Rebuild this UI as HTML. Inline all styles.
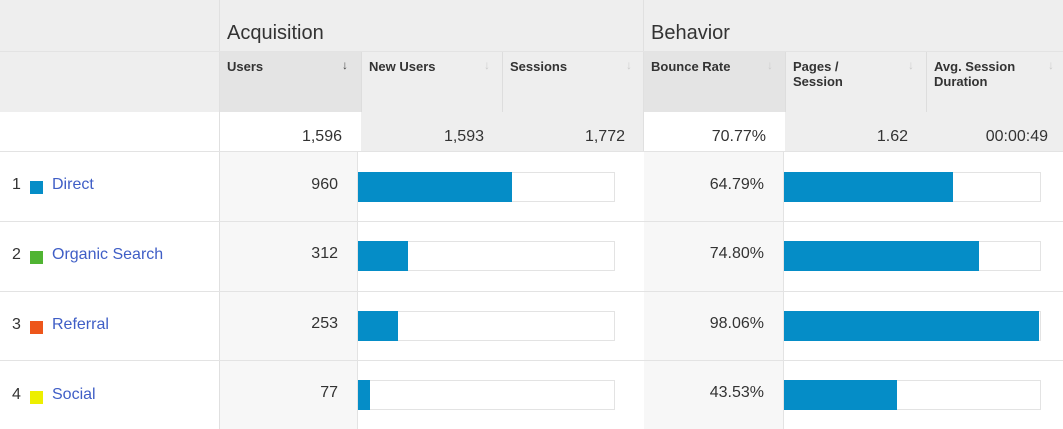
<!DOCTYPE html>
<html><head><style>
body{margin:0;width:1063px;height:429px;overflow:hidden;background:#fff;font-family:"Liberation Sans",Arial,sans-serif;color:#333;position:relative}
div{position:absolute;box-sizing:border-box}
.g{background:#eee}
.gd{background:#e4e4e4}
.h{font-size:20px;color:#333;top:22px}
.ch{font-size:13px;font-weight:bold;color:#333;line-height:15px}
.ar{font-size:12px;color:#ccc;font-weight:bold}
.num{font-size:16px;text-align:right}
.bx{border:1px solid #e3e3e3;background:#fff;height:30px}
.bar{background:#058dc7;height:30px}
.lbl{font-size:16px;color:#3f5ec6}
</style></head><body>
<div class="g" style="left:0;top:0;width:1063px;height:112px"></div>
<div style="left:219px;top:0;width:1px;height:429px;background:#e0e0e0"></div>
<div style="left:643px;top:0;width:1px;height:152px;background:#e0e0e0"></div>
<div style="left:0;top:51px;width:1063px;height:1px;background:#e3e3e3"></div>
<div class="h" style="left:227px">Acquisition</div>
<div class="h" style="left:651px">Behavior</div>
<div class="gd" style="left:220px;top:52px;width:141px;height:60px"></div>
<div class="gd" style="left:644px;top:52px;width:141px;height:60px"></div>
<div style="left:361px;top:52px;width:1px;height:100px;background:#ddd"></div>
<div style="left:502px;top:52px;width:1px;height:100px;background:#ddd"></div>
<div style="left:785px;top:52px;width:1px;height:100px;background:#ddd"></div>
<div style="left:926px;top:52px;width:1px;height:100px;background:#ddd"></div>
<div class="ch" style="left:227px;top:59px">Users</div><div class="ar" style="left:342px;top:58px;color:#444">&#x2193;</div>
<div class="ch" style="left:369px;top:59px">New Users</div><div class="ar" style="left:484px;top:58px">&#x2193;</div>
<div class="ch" style="left:510px;top:59px">Sessions</div><div class="ar" style="left:626px;top:58px">&#x2193;</div>
<div class="ch" style="left:651px;top:59px">Bounce Rate</div><div class="ar" style="left:767px;top:58px">&#x2193;</div>
<div class="ch" style="left:793px;top:59px">Pages /<br>Session</div><div class="ar" style="left:908px;top:58px">&#x2193;</div>
<div class="ch" style="left:934px;top:59px">Avg. Session<br>Duration</div><div class="ar" style="left:1048px;top:58px">&#x2193;</div>
<div class="g" style="left:361px;top:112px;width:282px;height:40px"></div>
<div class="g" style="left:785px;top:112px;width:278px;height:40px"></div>
<div class="num" style="left:220px;top:128px;width:122px">1,596</div>
<div class="num" style="left:361px;top:128px;width:123px">1,593</div>
<div class="num" style="left:502px;top:128px;width:123px">1,772</div>
<div class="num" style="left:644px;top:128px;width:122px">70.77%</div>
<div class="num" style="left:785px;top:128px;width:123px">1.62</div>
<div class="num" style="left:926px;top:128px;width:122px">00:00:49</div>

<div style="left:0;top:151px;width:1063px;height:1px;background:#e3e3e3"></div>
<div style="left:220px;top:152px;width:137px;height:277px;background:#f7f7f7"></div>
<div style="left:644px;top:152px;width:139px;height:277px;background:#f7f7f7"></div>
<div style="left:357px;top:152px;width:1px;height:277px;background:#e3e3e3"></div>
<div style="left:783px;top:152px;width:1px;height:277px;background:#e3e3e3"></div>
<div style="left:0;top:221px;width:1063px;height:1px;background:#e3e3e3"></div>
<div style="left:0;top:291px;width:1063px;height:1px;background:#e3e3e3"></div>
<div style="left:0;top:360px;width:1063px;height:1px;background:#e3e3e3"></div>

<div style="left:12px;top:176px;font-size:16px">1</div><div style="left:30px;top:181px;width:13px;height:13px;background:#058dc7"></div><div class="lbl" style="left:52px;top:176px">Direct</div>
<div style="left:12px;top:246px;font-size:16px">2</div><div style="left:30px;top:251px;width:13px;height:13px;background:#50b432"></div><div class="lbl" style="left:52px;top:246px">Organic Search</div>
<div style="left:12px;top:316px;font-size:16px">3</div><div style="left:30px;top:321px;width:13px;height:13px;background:#ed561b"></div><div class="lbl" style="left:52px;top:316px">Referral</div>
<div style="left:12px;top:386px;font-size:16px">4</div><div style="left:30px;top:391px;width:13px;height:13px;background:#edef00"></div><div class="lbl" style="left:52px;top:386px">Social</div>

<div class="num" style="left:220px;top:176px;width:118px">960</div>
<div class="num" style="left:220px;top:245px;width:118px">312</div>
<div class="num" style="left:220px;top:315px;width:118px">253</div>
<div class="num" style="left:220px;top:384px;width:118px">77</div>
<div class="num" style="left:644px;top:176px;width:120px">64.79%</div>
<div class="num" style="left:644px;top:245px;width:120px">74.80%</div>
<div class="num" style="left:644px;top:315px;width:120px">98.06%</div>
<div class="num" style="left:644px;top:384px;width:120px">43.53%</div>

<div class="bx" style="left:358px;top:172px;width:257px"></div><div class="bar" style="left:358px;top:172px;width:154px"></div>
<div class="bx" style="left:358px;top:241px;width:257px"></div><div class="bar" style="left:358px;top:241px;width:50px"></div>
<div class="bx" style="left:358px;top:311px;width:257px"></div><div class="bar" style="left:358px;top:311px;width:40px"></div>
<div class="bx" style="left:358px;top:380px;width:257px"></div><div class="bar" style="left:358px;top:380px;width:12px"></div>

<div class="bx" style="left:784px;top:172px;width:257px"></div><div class="bar" style="left:784px;top:172px;width:169px"></div>
<div class="bx" style="left:784px;top:241px;width:257px"></div><div class="bar" style="left:784px;top:241px;width:195px"></div>
<div class="bx" style="left:784px;top:311px;width:257px"></div><div class="bar" style="left:784px;top:311px;width:255px"></div>
<div class="bx" style="left:784px;top:380px;width:257px"></div><div class="bar" style="left:784px;top:380px;width:113px"></div>
</body></html>
